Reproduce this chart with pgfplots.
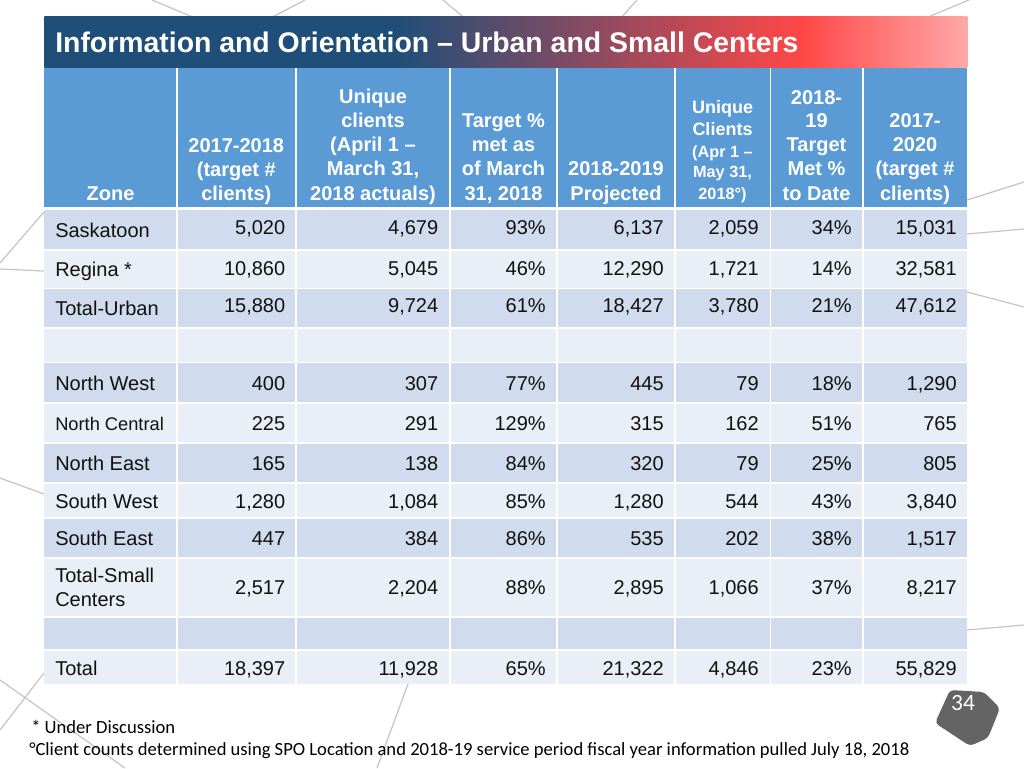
\documentclass[border=0pt]{standalone}
\usepackage{pgfplots}
\pgfplotsset{compat=1.18}
\usepackage{pgfplotstable}
\usepackage{fontspec}
\setmainfont{Liberation Sans}
\newfontfamily\calibri{Carlito}
\definecolor{hdr}{HTML}{5B9BD5}
\definecolor{rowA}{HTML}{D0DCEE}
\definecolor{rowB}{HTML}{E9EEF7}
\definecolor{navy}{HTML}{1F4E79}
\definecolor{tred}{HTML}{FF4747}
\definecolor{tpink}{HTML}{FFA8A8}
\definecolor{deco}{HTML}{C4C4C4}
\definecolor{hexg}{HTML}{646464}
\definecolor{txt}{HTML}{111111}
\pgfdeclarehorizontalshading{titlegrad}{100bp}{color(0bp)=(navy); color(44bp)=(navy); color(66bp)=(tred); color(75bp)=(tpink); color(100bp)=(tpink)}

\pgfplotstableread[col sep=semicolon]{
y;t1718;uniq;pct;proj;uniq2;pct2;t1720
234;5020;4679;93;6137;2059;34;15031
275;10860;5045;46;12290;1721;14;32581
312;15880;9724;61;18427;3780;21;47612
390.7;400;307;77;445;79;18;1290
430;225;291;129;315;162;51;765
470;165;138;84;320;79;25;805
508;1280;1084;85;1280;544;43;3840
545;447;384;86;535;202;38;1517
594.3;2517;2204;88;2895;1066;37;8217
675;18397;11928;65;21322;4846;23;55829
}\datatable

\newcommand{\nfont}{\fontsize{15}{18}\selectfont}
\newcommand{\hfont}{\fontsize{15}{18}\selectfont\bfseries}
\newcommand{\hfontb}{\fontsize{13.5}{16}\selectfont\bfseries}
\newcommand{\hfontc}{\fontsize{12.2}{15}\selectfont\bfseries}
\newcommand{\hl}[3]{\node[anchor=base,text=white,inner sep=0pt,font=\hfont] at (axis cs:#1,#2) {#3};}
\newcommand{\zl}[3][\nfont]{\node[anchor=base west,text=txt,inner sep=0pt,font=#1] at (axis cs:55,#2) {#3};}
\newcommand{\cellrow}[3]{%
  \fill[#3] (axis cs:44.3,#1) rectangle (axis cs:175.9,#2);
  \fill[#3] (axis cs:177.5,#1) rectangle (axis cs:295.2,#2);
  \fill[#3] (axis cs:296.8,#1) rectangle (axis cs:449.2,#2);
  \fill[#3] (axis cs:450.8,#1) rectangle (axis cs:556.2,#2);
  \fill[#3] (axis cs:557.8,#1) rectangle (axis cs:673.9,#2);
  \fill[#3] (axis cs:675.5,#1) rectangle (axis cs:769.5,#2);
  \fill[#3] (axis cs:771.1,#1) rectangle (axis cs:861.9,#2);
  \fill[#3] (axis cs:863.5,#1) rectangle (axis cs:967.3,#2);}

\pgfplotsset{numcol/.style={draw=none, mark=none, nodes near coords, point meta=explicit,
  every node near coord/.append style={anchor=base east, inner sep=0pt, font=\nfont, text=txt}}}

\begin{document}
\begin{tikzpicture}
\useasboundingbox (0,0) rectangle (768pt,576pt);
\begin{axis}[at={(0pt,0pt)}, anchor=south west, scale only axis, width=768pt, height=576pt,
  xmin=0, xmax=1024, ymin=0, ymax=768, y dir=reverse, hide axis, clip=false,
  /pgf/number format/fixed, /pgf/number format/precision=0,
  /pgf/number format/1000 sep={,}, /pgf/number format/assume math mode=true]

% decorative background lines
\begin{scope}[draw=deco, line width=0.9pt]
\draw (axis cs:152,0) -- (axis cs:192,16.7);
\draw (axis cs:305,0) -- (axis cs:273,16.7);
\draw (axis cs:443,0) -- (axis cs:463,16.7);
\draw (axis cs:637,0) -- (axis cs:622,16.7);
\draw (axis cs:969,0) -- (axis cs:929,16.7);
\draw (axis cs:1024,182) -- (axis cs:967,200);
\draw (axis cs:1024,229) -- (axis cs:967,234);
\draw (axis cs:1024,307) -- (axis cs:967,292);
\draw (axis cs:1024,625) -- (axis cs:967,630);
\draw (axis cs:0,263) -- (axis cs:44,212);
\draw (axis cs:0,269) -- (axis cs:44,271);
\draw (axis cs:0,478) -- (axis cs:44,494);
\draw (axis cs:44,673) -- (axis cs:0,730);
\draw (axis cs:0,680) -- (axis cs:125,768);
\draw (axis cs:408,684) -- (axis cs:377,768);
\end{scope}

% title bar
\shade[shading=titlegrad] (axis cs:44.3,16.7) rectangle (axis cs:967.3,67.7);
\node[anchor=base west,text=white,inner sep=0pt,font=\fontsize{21.3}{26}\selectfont\bfseries] at (axis cs:55,52.3) {Information and Orientation – Urban and Small Centers};

% header and body cells
\cellrow{67.7}{207}{hdr}
\cellrow{210}{249}{rowA}
\cellrow{250.6}{287.5}{rowB}
\cellrow{289}{327}{rowA}
\cellrow{328.7}{361.8}{rowB}
\cellrow{363.4}{402}{rowA}
\cellrow{403.8}{442}{rowB}
\cellrow{443.8}{482.2}{rowA}
\cellrow{484}{516.8}{rowB}
\cellrow{518.6}{557}{rowA}
\cellrow{558.7}{615.8}{rowB}
\cellrow{617.5}{649.4}{rowA}
\cellrow{651}{683.5}{rowB}

% header texts
\hl{110.5}{200}{Zone}
\hl{236.3}{152}{2017-2018}
\hl{236.3}{176}{(target \#}
\hl{236.3}{200}{clients)}
\hl{373}{103.5}{Unique}
\hl{373}{127.7}{clients}
\hl{373}{151.7}{(April 1 –}
\hl{373}{175.7}{March 31,}
\hl{373}{200}{2018 actuals)}
\hl{503.5}{127.7}{Target \%}
\hl{503.5}{151.7}{met as}
\hl{503.5}{175.7}{of March}
\hl{503.5}{200}{31, 2018}
\hl{616}{175.7}{2018-2019}
\hl{616}{200}{Projected}
\node[anchor=base,text=white,inner sep=0pt,font=\hfontb] at (axis cs:722.5,113) {Unique};
\node[anchor=base,text=white,inner sep=0pt,font=\hfontb] at (axis cs:722.5,135) {Clients};
\node[anchor=base,text=white,inner sep=0pt,font=\hfontc] at (axis cs:722.5,157) {(Apr 1 –};
\node[anchor=base,text=white,inner sep=0pt,font=\hfontc] at (axis cs:722.5,177.7) {May 31,};
\node[anchor=base,text=white,inner sep=0pt,font=\hfontc] at (axis cs:722.5,199) {2018°)};
\hl{816.5}{104}{2018-}
\hl{816.5}{127.7}{19}
\hl{816.5}{151.7}{Target}
\hl{816.5}{175.7}{Met \%}
\hl{816.5}{200}{to Date}
\hl{915}{127.7}{2017-}
\hl{915}{151.7}{2020}
\hl{915}{175.7}{(target \#}
\hl{915}{200}{clients)}

% zone labels
\zl{237}{Saskatoon}
\zl{276}{Regina *}
\zl{315}{Total-Urban}
\zl{390.7}{North West}
\zl[\fontsize{13.7}{16}\selectfont]{430}{North Central}
\zl{470}{North East}
\zl{508}{South West}
\zl{545}{South East}
\zl{582}{Total-Small}
\zl{606.7}{Centers}
\zl{675}{Total}

% data values
\addplot[numcol] table[x expr=285.5, y=y, meta=t1718] {\datatable};
\addplot[numcol] table[x expr=438.5, y=y, meta=uniq] {\datatable};
\addplot[numcol, nodes near coords={\pgfmathprintnumber{\pgfplotspointmeta}\%}] table[x expr=546, y=y, meta=pct] {\datatable};
\addplot[numcol] table[x expr=664, y=y, meta=proj] {\datatable};
\addplot[numcol] table[x expr=759, y=y, meta=uniq2] {\datatable};
\addplot[numcol, nodes near coords={\pgfmathprintnumber{\pgfplotspointmeta}\%}] table[x expr=852, y=y, meta=pct2] {\datatable};
\addplot[numcol] table[x expr=957, y=y, meta=t1720] {\datatable};

% page number badge
\fill[hexg, rounded corners=3pt] (axis cs:950,690) -- (axis cs:984,692) -- (axis cs:1000,708) -- (axis cs:988,738) -- (axis cs:970,746) -- (axis cs:935,723) -- cycle;
\node[anchor=base,text=white,inner sep=0pt,font=\calibri\fontsize{17.5}{20}\selectfont] at (axis cs:963,710) {34};

% footnotes
\node[anchor=base west,inner sep=0pt,font=\calibri\fontsize{13.95}{16}\selectfont] at (axis cs:31,733) {* Under Discussion};
\node[anchor=base west,inner sep=0pt,font=\calibri\fontsize{13.95}{16}\selectfont] at (axis cs:29,755.7) {°Client counts determined using SPO Location and 2018-19 service period fiscal year information pulled July 18, 2018};
\end{axis}
\end{tikzpicture}
\end{document}
